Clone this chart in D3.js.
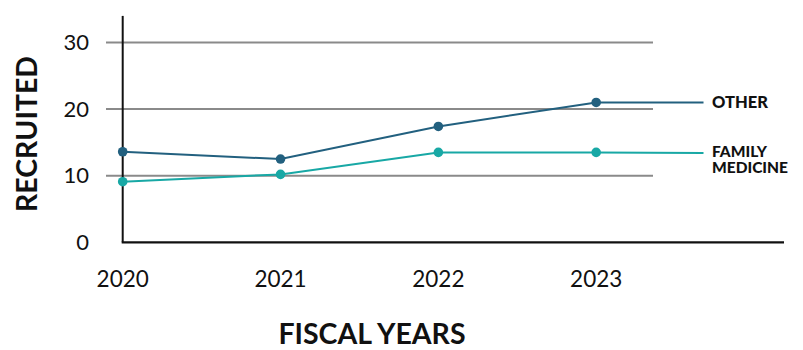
<!DOCTYPE html>
<html>
<head>
<meta charset="utf-8">
<script src="https://cdn.jsdelivr.net/npm/d3@7/dist/d3.min.js"></script>
<style>
  html, body { margin: 0; padding: 0; background: #fff; }
  svg { display: block; font-family: Lato, "Noto Sans", sans-serif; }
</style>
</head>
<body>
<svg id="chart" width="803" height="350"></svg>
<script>
// Recruitment by fiscal year
const years = [2020, 2021, 2022, 2023];
const otherValues = [13.6, 12.5, 17.4, 21.0];
const familyValues = [9.1, 10.2, 13.5, 13.5];
// value where each series' leader line meets its label
const otherLabelValue = 21.0;
const familyLabelValue = 13.4;
const yTicks = [0, 10, 20, 30];
const seriesNames = ["OTHER", ["FAMILY", "MEDICINE"]];

const colors = { other: "#22607f", family: "#18a8a5" };

const svg = d3.select("#chart");

const x = d3.scaleLinear().domain([2020, 2024.19]).range([122.7, 784]);
const y = d3.scaleLinear().domain([0, 34]).range([242.3, 15.9]);
const labelX = 2023.68;   // end of the leader lines
const gridEnd = 2023.36;

// horizontal gridlines
svg.append("g")
  .selectAll("line")
  .data(yTicks.filter(d => d > 0))
  .join("line")
  .attr("x1", 106).attr("x2", x(gridEnd))
  .attr("y1", d => y(d)).attr("y2", d => y(d))
  .attr("stroke", "#8a8a8a").attr("stroke-width", 2);

// y tick labels
svg.append("g")
  .selectAll("text")
  .data(yTicks)
  .join("text")
  .attr("x", 89).attr("y", d => y(d))
  .attr("dy", "0.35em")
  .attr("text-anchor", "end")
  .attr("font-size", 22)
  .attr("fill", "#111")
  .text(d => d);

// x tick labels
svg.append("g")
  .selectAll("text")
  .data(years)
  .join("text")
  .attr("x", d => x(d)).attr("y", 286.5)
  .attr("text-anchor", "middle")
  .attr("font-size", 22.5)
  .attr("fill", "#111")
  .text(d => d);

// axis lines
svg.append("line")
  .attr("x1", x(2020)).attr("x2", x(2020))
  .attr("y1", y(34)).attr("y2", y(0))
  .attr("stroke", "#111").attr("stroke-width", 2);
svg.append("line")
  .attr("x1", x(2020) - 1).attr("x2", x(2024.19))
  .attr("y1", y(0)).attr("y2", y(0))
  .attr("stroke", "#111").attr("stroke-width", 2.2);

const line = d3.line().x(d => x(d[0])).y(d => y(d[1]));

function drawSeries(values, endValue, color) {
  const pts = years.map((yr, i) => [yr, values[i]]);
  svg.append("path")
    .attr("d", line(pts.concat([[labelX, endValue]])))
    .attr("fill", "none")
    .attr("stroke", color)
    .attr("stroke-width", 2);
  svg.append("g")
    .selectAll("circle")
    .data(pts)
    .join("circle")
    .attr("cx", d => x(d[0])).attr("cy", d => y(d[1]))
    .attr("r", 4.8)
    .attr("fill", color);
}

drawSeries(otherValues, otherLabelValue, colors.other);
drawSeries(familyValues, familyLabelValue, colors.family);

// series labels
svg.append("text")
  .attr("x", 712).attr("y", 108)
  .attr("font-size", 16.5).attr("font-weight", 900)
  .attr("fill", "#111")
  .text(seriesNames[0]);
svg.append("g")
  .selectAll("text")
  .data(seriesNames[1])
  .join("text")
  .attr("x", 712).attr("y", (d, i) => 156.5 + i * 16.5)
  .attr("font-size", 15.5).attr("font-weight", 900)
  .attr("fill", "#111")
  .text(d => d);

// axis titles
svg.append("text")
  .attr("transform", "translate(37,134) rotate(-90)")
  .attr("text-anchor", "middle")
  .attr("font-size", 28.5).attr("font-weight", 700)
  .attr("fill", "#111")
  .text("RECRUITED");
svg.append("text")
  .attr("x", 372).attr("y", 343.5)
  .attr("text-anchor", "middle")
  .attr("font-size", 28.5).attr("font-weight", 700)
  .attr("fill", "#111")
  .text("FISCAL YEARS");
</script>
</body>
</html>
